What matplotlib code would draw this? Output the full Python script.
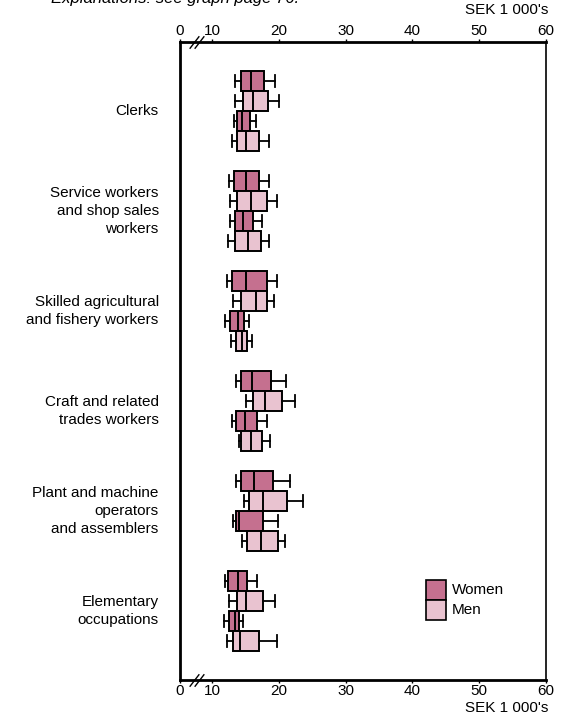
import matplotlib
matplotlib.use("Agg")
import matplotlib.pyplot as plt
from matplotlib.patches import Rectangle

plt.rcParams["font.family"] = ["Liberation Sans", "DejaVu Sans"]

# occupation groups (top to bottom)
groups = ["Clerks",
          "Service workers\nand shop sales\nworkers",
          "Skilled agricultural\nand fishery workers",
          "Craft and related\ntrades workers",
          "Plant and machine\noperators\nand assemblers",
          "Elementary\noccupations"]

# each group has four boxes: women, men, women, men
sexes = ["Women", "Men", "Women", "Men"]

# SEK 1 000's: lower whisker, Q1, median, Q3, upper whisker
whislo = [[13.5, 13.5, 13.3, 13.0],
          [12.5, 12.7, 12.7, 12.4],
          [12.2, 13.1, 12.0, 12.8],
          [13.6, 15.1, 13.0, 14.0],
          [13.6, 14.8, 13.2, 14.5],
          [11.9, 12.5, 11.8, 12.2]]
q1 = [[14.4, 14.6, 13.7, 13.8],
      [13.3, 13.7, 13.5, 13.4],
      [13.0, 14.4, 12.7, 13.6],
      [14.3, 16.2, 13.6, 14.4],
      [14.4, 15.6, 13.6, 15.2],
      [12.4, 13.7, 12.5, 13.1]]
med = [[15.9, 16.1, 14.5, 15.1],
       [15.1, 15.8, 14.7, 15.4],
       [15.1, 16.6, 13.9, 14.5],
       [16.0, 18.0, 14.9, 15.8],
       [16.3, 17.6, 14.0, 17.4],
       [13.9, 15.1, 13.4, 14.2]]
q3 = [[17.8, 18.4, 15.7, 17.0],
      [17.1, 18.2, 16.2, 17.4],
      [18.2, 18.3, 14.8, 15.3],
      [18.9, 20.5, 16.8, 17.5],
      [19.2, 21.2, 17.7, 19.9],
      [15.3, 17.7, 14.1, 17.1]]
whishi = [[19.5, 20.1, 16.6, 18.5],
          [18.6, 19.8, 17.5, 18.6],
          [19.7, 19.3, 15.5, 16.0],
          [21.1, 22.5, 18.3, 18.7],
          [21.7, 23.7, 19.9, 20.9],
          [16.7, 19.4, 14.6, 19.8]]

tick_vals = [10, 20, 30, 40, 50, 60]
colors = {"Women": "#C5708F", "Men": "#E9C3D0"}

# broken axis: the "0" tick sits just left of 10
zero_pos = 5.2
break_pos = 7.7

fig = plt.figure(figsize=(5.64, 7.2), dpi=100)
ax = fig.add_axes([0.319, 0.0556, 0.649, 0.886])

stats, positions, facecols = [], [], []
for g in range(len(groups)):
    center = 3.45 + 5 * g
    for k in range(4):
        stats.append(dict(whislo=whislo[g][k], q1=q1[g][k], med=med[g][k],
                          q3=q3[g][k], whishi=whishi[g][k], fliers=[]))
        positions.append(center - 1.5 + k)
        facecols.append(colors[sexes[k]])

bp = ax.bxp(stats, positions=positions, widths=1.0, capwidths=0.6,
            orientation="horizontal", patch_artist=True, showfliers=False,
            boxprops=dict(linewidth=1.4, edgecolor="black"),
            medianprops=dict(color="black", linewidth=1.4),
            whiskerprops=dict(color="black", linewidth=1.3),
            capprops=dict(color="black", linewidth=1.3))
for box, c in zip(bp["boxes"], facecols):
    box.set_facecolor(c)

ax.set_xlim(zero_pos, 60)
ax.set_ylim(31.9, 0)
ax.set_yticks([])
ax.set_xticks([zero_pos] + tick_vals)
ax.set_xticklabels(["0"] + [str(v) for v in tick_vals])
ax.tick_params(axis="x", top=True, labeltop=True, bottom=True, labelbottom=True,
               direction="out", length=2, width=1, labelsize=11, pad=1)

for side in ["top", "bottom", "left"]:
    ax.spines[side].set_linewidth(2)
ax.spines["right"].set_linewidth(1.2)

# axis break marks
for yy in [0, 1]:
    for dx in [-0.35, 0.35]:
        ax.plot([break_pos + dx], [yy], transform=ax.get_xaxis_transform(),
                marker=[(-1, -1.3), (1, 1.3)], markersize=9, color="black",
                markeredgewidth=1.0, clip_on=False)

# group labels
for g, name in enumerate(groups):
    ax.text(-0.058, 3.45 + 5 * g, name, transform=ax.get_yaxis_transform(),
            ha="right", va="center", fontsize=11, linespacing=1.38)

fig.text(0.972, 0.986, "SEK 1 000's", ha="right", va="center", fontsize=11)
fig.text(0.972, 0.017, "SEK 1 000's", ha="right", va="center", fontsize=11)
fig.text(0.09, 1.002, "Explanations: see graph page 76.", ha="left", va="center",
         fontsize=12, style="italic")

# legend
for i, s in enumerate(["Women", "Men"]):
    fig.patches.append(Rectangle((0.755, 0.167 - i * 0.028), 0.035, 0.028,
                                 transform=fig.transFigure, facecolor=colors[s],
                                 edgecolor="black", linewidth=1.2))
    fig.text(0.801, 0.181 - i * 0.028, s, ha="left", va="center", fontsize=11)

fig.savefig("out.png", dpi=100)
